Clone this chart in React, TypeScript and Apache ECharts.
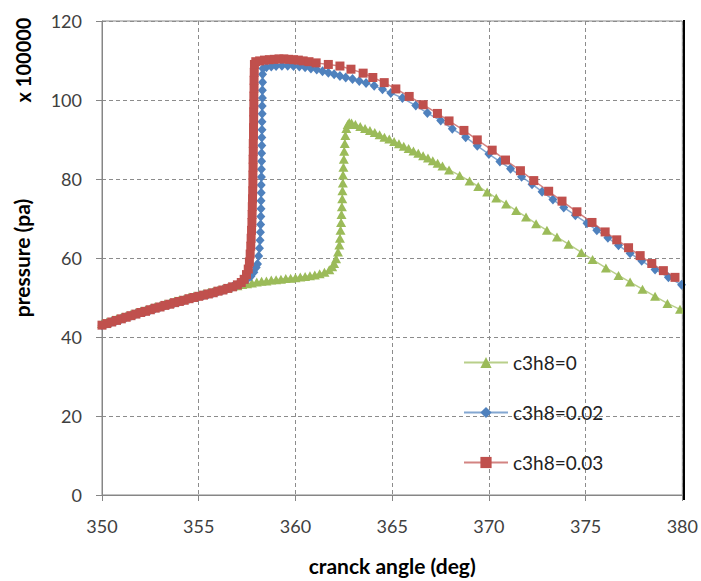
import React, { useEffect, useRef } from "react";
import * as echarts from "echarts";

// crank angle (deg) and pressure (x 100000 pa)
const greenAngle = [
  350, 350.25, 350.5, 350.75, 351, 351.25, 351.5, 351.75, 352, 352.25, 352.5, 352.75, 353, 353.25, 353.5, 353.75,
  354, 354.25, 354.5, 354.75, 355, 355.25, 355.5, 355.75, 356, 356.25, 356.5, 356.75, 357, 357.25, 357.5, 357.75,
  358, 358.25, 358.5, 358.75, 359, 359.25, 359.5, 359.75, 360, 360.25, 360.5, 360.75, 361, 361.25, 361.5, 361.75,
  361.9, 362.0, 362.1, 362.2, 362.27, 362.3, 362.33, 362.36, 362.38, 362.4, 362.42, 362.43, 362.45, 362.46, 362.48,
  362.5, 362.52, 362.55, 362.58, 362.63, 362.7, 362.78,
  362.9, 363.1, 363.35, 363.6, 363.85, 364.1, 364.35, 364.6, 364.85, 365.1, 365.35, 365.6, 365.85, 366.1, 366.35,
  366.6, 366.85, 367.1, 367.35, 367.6, 367.94, 368.49, 369.0, 369.45, 369.91, 370.38, 370.89, 371.41, 371.92,
  372.44, 373.0, 373.52, 374.12, 374.78, 375.36, 376.05, 376.7, 377.3, 377.94, 378.59, 379.23, 379.88,
];
const greenPressure = [
  43.4, 43.8, 44.2, 44.6, 45.0, 45.4, 45.8, 46.2, 46.6, 46.9, 47.3, 47.7, 48.0, 48.4, 48.7, 49.1,
  49.4, 49.7, 50.1, 50.4, 50.7, 51.0, 51.3, 51.6, 51.9, 52.2, 52.5, 52.8, 53.0, 53.3, 53.5, 53.7,
  53.9, 54.1, 54.2, 54.4, 54.5, 54.6, 54.8, 54.9, 55.0, 55.2, 55.3, 55.5, 55.7, 56.0, 56.4, 57.0,
  57.8, 58.6, 59.8, 61.5, 63.3, 65, 67, 69, 71, 73, 75, 77, 79, 81, 83,
  85, 87, 89, 91, 92.8, 93.8, 94.3,
  94.2, 93.8, 93.3, 92.8, 92.3, 91.8, 91.2, 90.6, 90.1, 89.5, 88.9, 88.3, 87.7, 87.1, 86.5,
  85.9, 85.3, 84.6, 84.0, 83.3, 82.3, 80.9, 79.5, 78.1, 76.7, 75.2, 73.7, 72.0, 70.4,
  68.7, 67.0, 65.3, 63.5, 61.4, 59.6, 57.5, 55.6, 53.9, 52.1, 50.3, 48.5, 47.0,
];

const blueAngle = [
  350, 350.25, 350.5, 350.75, 351, 351.25, 351.5, 351.75, 352, 352.25, 352.5, 352.75, 353, 353.25, 353.5, 353.75,
  354, 354.25, 354.5, 354.75, 355, 355.25, 355.5, 355.75, 356, 356.25, 356.5, 356.75, 357, 357.25, 357.5, 357.7,
  357.85, 357.97, 358.04, 358.1, 358.14, 358.17, 358.19, 358.2, 358.21, 358.22, 358.22, 358.23, 358.23, 358.24,
  358.24, 358.25, 358.25, 358.26, 358.26, 358.27, 358.27, 358.28, 358.28, 358.29, 358.29, 358.3, 358.3, 358.32,
  358.5, 358.75, 359.0, 359.3, 359.6, 359.9, 360.2, 360.5, 360.8, 361.1, 361.4, 361.7, 362.0, 362.3, 362.6,
  362.95, 363.3, 363.65, 364.07, 364.5, 364.93, 365.53, 366.22, 366.82, 367.51, 368.11, 368.8, 369.4, 370.0,
  370.57, 371.12, 371.69, 372.23, 372.75, 373.31, 373.87, 374.47, 375.07, 375.58, 376.15, 376.7, 377.3, 377.9,
  378.59, 379.28, 379.96,
];
const bluePressure = [
  43.0, 43.4, 43.8, 44.2, 44.6, 45.0, 45.4, 45.8, 46.2, 46.5, 46.9, 47.3, 47.6, 48.0, 48.3, 48.7,
  49.0, 49.3, 49.7, 50.0, 50.3, 50.6, 50.9, 51.2, 51.6, 51.9, 52.3, 52.7, 53.2, 53.8, 54.6, 55.4,
  56.4, 57.6, 58.5, 60.5, 62.5, 64.5, 66.5, 68.5, 70.5, 72.5, 74.5, 76.5, 78.5, 80.5,
  82.5, 84.5, 86.5, 88.5, 90.5, 92.5, 94.5, 96.5, 98.5, 100.5, 102.5, 104.5, 106.5, 108.0,
  108.3, 108.5, 108.6, 108.7, 108.7, 108.6, 108.5, 108.3, 108.0, 107.7, 107.3, 106.9, 106.5, 106.1, 105.7,
  105.3, 104.8, 104.3, 103.6, 102.7, 101.8, 100.5, 98.6, 96.7, 94.8, 92.7, 90.6, 88.4, 86.3,
  84.4, 82.6, 80.6, 78.7, 76.8, 74.8, 72.8, 70.8, 68.8, 67.0, 65.1, 63.2, 61.2, 59.3,
  57.1, 55.1, 53.2,
];

const redAngle = [
  350, 350.25, 350.5, 350.75, 351, 351.25, 351.5, 351.75, 352, 352.25, 352.5, 352.75, 353, 353.25, 353.5, 353.75,
  354, 354.25, 354.5, 354.75, 355, 355.25, 355.5, 355.75, 356, 356.25, 356.5, 356.75, 357, 357.2, 357.35, 357.47,
  357.56, 357.62, 357.66, 357.69, 357.71, 357.73, 357.75, 357.76, 357.77, 357.78, 357.79, 357.8, 357.8, 357.81,
  357.81, 357.82, 357.82, 357.83, 357.83, 357.84, 357.84, 357.85, 357.85, 357.86, 357.86, 357.87, 357.88,
  357.95, 358.15, 358.4, 358.65, 358.9, 359.15, 359.4, 359.65, 359.9, 360.15, 360.4, 360.7, 361.07, 361.7,
  362.3, 362.87, 363.5, 364.0, 364.59, 365.19, 365.88, 366.6, 367.34, 367.94, 368.71, 369.4, 370.17, 370.86,
  371.63, 372.32, 373.09, 373.78, 374.55, 375.33, 376.01, 376.61, 377.22, 377.82, 378.42, 379.02, 379.62,
];
const redPressure = [
  43.0, 43.4, 43.8, 44.2, 44.6, 45.0, 45.4, 45.8, 46.2, 46.5, 46.9, 47.3, 47.6, 48.0, 48.3, 48.7,
  49.0, 49.3, 49.7, 50.0, 50.3, 50.6, 50.9, 51.2, 51.6, 51.9, 52.3, 52.7, 53.2, 53.8, 54.6, 55.8,
  57.2, 59, 61, 63, 65, 67, 69, 71, 73, 75, 77, 79, 81, 83,
  85, 87, 89, 91, 93, 95, 97, 99, 101, 103, 105, 107, 109,
  109.7, 109.9, 110.1, 110.2, 110.3, 110.4, 110.4, 110.3, 110.2, 110.1, 109.9, 109.7, 109.4, 109.0,
  108.6, 107.8, 106.8, 105.7, 104.4, 102.8, 100.9, 98.8, 96.6, 94.7, 92.3, 89.9, 87.3, 84.8,
  82.1, 79.6, 76.9, 74.4, 71.7, 69.0, 66.6, 64.6, 62.6, 60.6, 58.6, 56.8, 55.1,
];

const seriesNames = ["c3h8=0", "c3h8=0.02", "c3h8=0.03"];
const xTicks = { min: 350, max: 380, interval: 5 };
const yTicks = { min: 0, max: 120, interval: 20 };

const zip = (a: number[], b: number[]) => a.map((v, i) => [v, b[i]]);

const FONT = "Lato, 'Open Sans', sans-serif";

export default function App() {
  const ref = useRef<HTMLDivElement>(null);
  useEffect(() => {
    if (!ref.current) return;
    const chart = echarts.init(ref.current, null, { renderer: "svg" });
    const legendBase = {
      orient: "vertical",
      left: 463,
      padding: 0,
      itemWidth: 44,
      itemHeight: 14,
      itemGap: 10,
      textStyle: { fontFamily: FONT, fontSize: 19, lineHeight: 18, color: "#222" },
    };
    chart.setOption({
      animation: false,
      backgroundColor: "#fff",
      textStyle: { fontFamily: FONT },
      grid: {
        left: 102,
        top: 21,
        right: 17,
        bottom: 81,
        show: true,
        borderColor: "#868686",
        borderWidth: 1,
      },
      legend: [
        { ...legendBase, top: 353, data: [seriesNames[0]] },
        { ...legendBase, top: 403, data: [seriesNames[1]] },
        { ...legendBase, top: 453, data: [seriesNames[2]] },
      ],
      xAxis: {
        type: "value",
        min: xTicks.min,
        max: xTicks.max,
        interval: xTicks.interval,
        name: "cranck angle (deg)",
        nameLocation: "middle",
        nameGap: 60,
        nameTextStyle: { fontFamily: FONT, fontSize: 21, fontWeight: "bold", color: "#000" },
        axisLine: { onZero: false, lineStyle: { color: "#868686", width: 1 } },
        axisTick: { show: true, inside: false, length: 6, lineStyle: { color: "#868686" } },
        axisLabel: { fontFamily: FONT, fontSize: 18, color: "#404040", margin: 22 },
        splitLine: { show: true, lineStyle: { color: "#8c8c8c", type: [4, 3], width: 1 } },
      },
      yAxis: {
        type: "value",
        min: yTicks.min,
        max: yTicks.max,
        interval: yTicks.interval,
        name: "pressure (pa)",
        nameLocation: "middle",
        nameGap: 70,
        nameTextStyle: { fontFamily: FONT, fontSize: 21, fontWeight: "bold", color: "#000" },
        axisLine: { show: true, lineStyle: { color: "#868686", width: 1 } },
        axisTick: { show: true, inside: false, length: 6, lineStyle: { color: "#868686" } },
        axisLabel: { fontFamily: FONT, fontSize: 18, color: "#404040", margin: 20 },
        splitLine: { show: true, lineStyle: { color: "#8c8c8c", type: [4, 3], width: 1 } },
      },
      graphic: [
        {
          type: "text",
          x: 23,
          y: 60,
          rotation: Math.PI / 2,
          style: {
            text: "x 100000",
            fontFamily: FONT,
            fontSize: 20,
            fontWeight: "bold",
            fill: "#000",
            align: "center",
            verticalAlign: "middle",
          },
        },
        {
          type: "line",
          shape: { x1: 684, y1: 20, x2: 684, y2: 500 },
          style: { stroke: "#000", lineWidth: 2 },
          z: 10,
        },
      ],
      series: [
        {
          name: seriesNames[0],
          type: "line",
          data: zip(greenAngle, greenPressure),
          symbol: "triangle",
          symbolSize: [10, 9],
          itemStyle: { color: "#9BBB59" },
          lineStyle: { color: "#9BBB59", width: 1.5, opacity: 0.7 },
          z: 2,
        },
        {
          name: seriesNames[1],
          type: "line",
          data: zip(blueAngle, bluePressure),
          symbol: "diamond",
          symbolSize: [9, 10],
          itemStyle: { color: "#4F81BD" },
          lineStyle: { color: "#4F81BD", width: 1.5, opacity: 0.7 },
          z: 3,
        },
        {
          name: seriesNames[2],
          type: "line",
          data: zip(redAngle, redPressure),
          symbol: "rect",
          symbolSize: 9,
          itemStyle: { color: "#C0504D" },
          lineStyle: { color: "#C0504D", width: 1.5, opacity: 0.7 },
          z: 4,
        },
      ],
    });
    return () => chart.dispose();
  }, []);
  return (
    <div
      ref={ref}
      style={{ position: "fixed", left: 0, top: 0, width: 701, height: 581, background: "#fff" }}
    />
  );
}
